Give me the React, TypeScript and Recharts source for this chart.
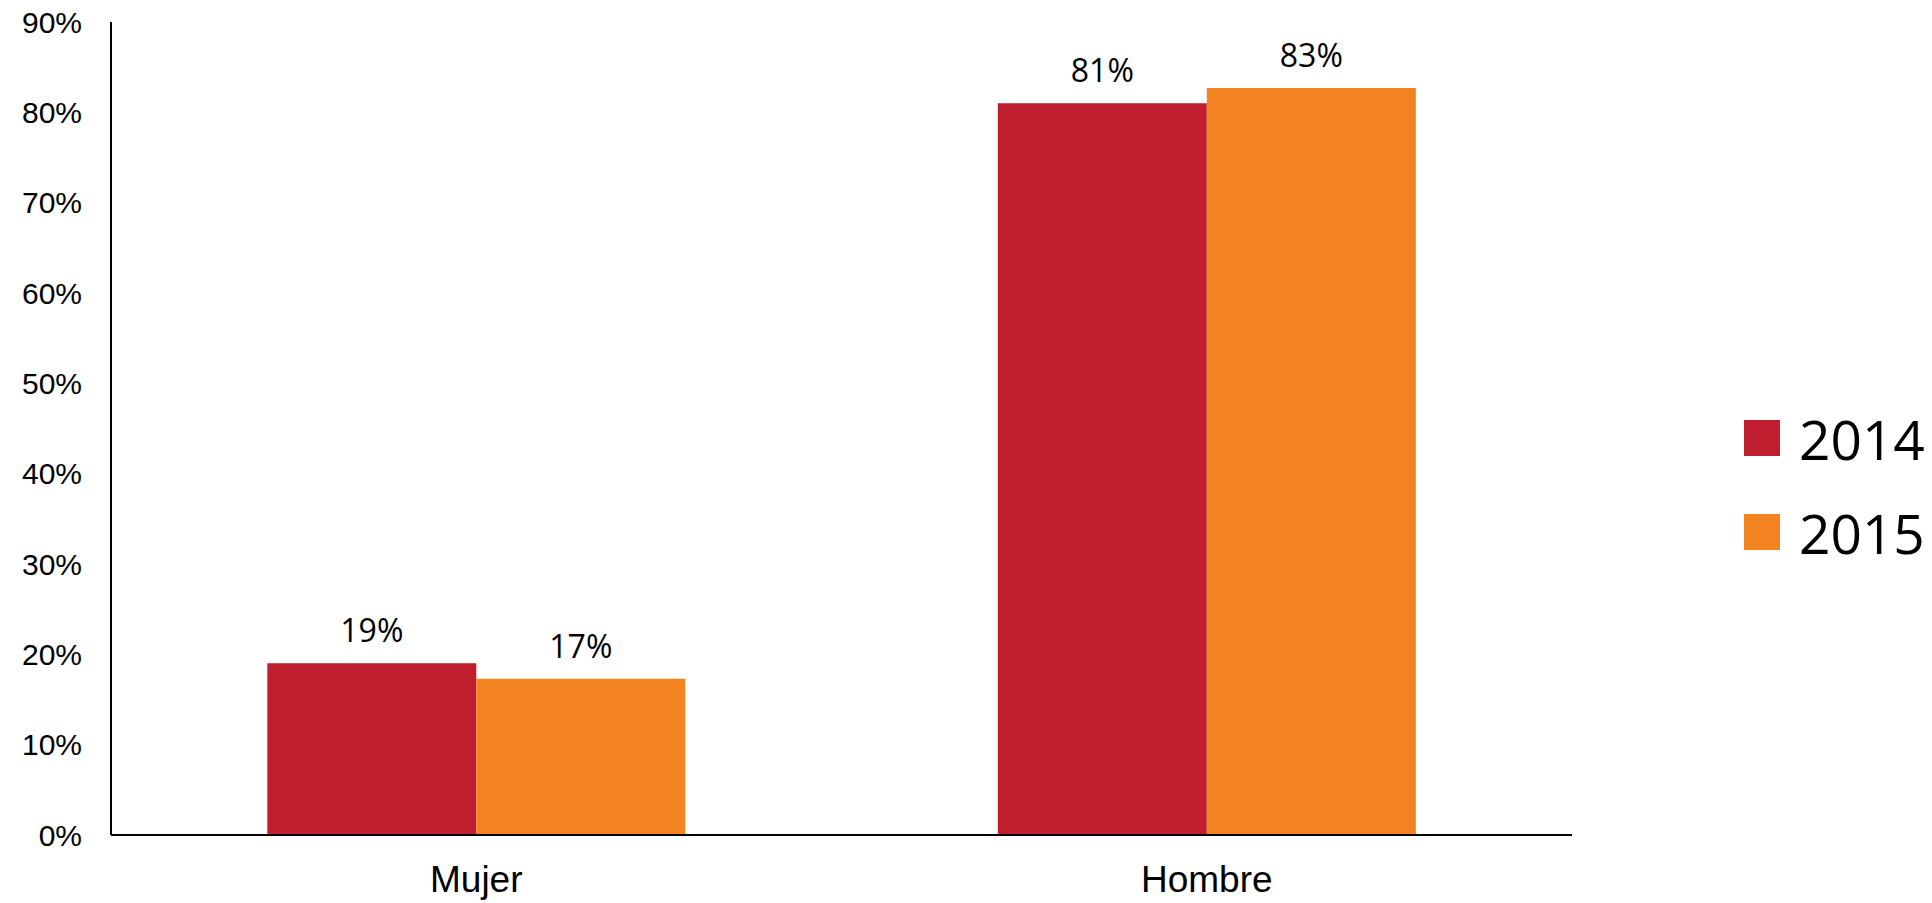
import { BarChart, Bar, XAxis, YAxis, Legend, LabelList } from "recharts";

const categories = ["Mujer", "Hombre"];
const values2014 = [19, 81];
const values2015 = [17.3, 82.7];
const yTicks = [0, 10, 20, 30, 40, 50, 60, 70, 80, 90];

const COLORS = { y2014: "#BE1E2D", y2015: "#F38220" };

const data = categories.map((name, i) => ({
  name,
  "2014": values2014[i],
  "2015": values2015[i],
}));

const legendItems = [
  { label: "2014", color: COLORS.y2014 },
  { label: "2015", color: COLORS.y2015 },
];

function renderLegend() {
  return (
    <div style={{ fontFamily: "'Open Sans', sans-serif" }}>
      {legendItems.map((item) => (
        <div
          key={item.label}
          style={{ display: "flex", alignItems: "center", height: 94 }}
        >
          <span
            style={{
              display: "inline-block",
              width: 36,
              height: 36,
              background: item.color,
              marginRight: 19,
            }}
          />
          <span style={{ fontSize: 55, color: "#000", lineHeight: 1 }}>
            {item.label}
          </span>
        </div>
      ))}
    </div>
  );
}

export default function App() {
  const pct = (v: number) => `${Math.round(v)}%`;
  // legend box (188 wide) is added to the right offset by recharts
  return (
    <div style={{ position: "absolute", left: 0, top: 0, background: "#fff" }}>
      <BarChart
        width={1932}
        height={903}
        data={data}
        margin={{ top: 22, right: 172, bottom: 0, left: 0 }}
        barCategoryGap="21.4%"
        barGap={0}
      >
        <XAxis
          dataKey="name"
          height={68}
          tickLine={false}
          tickSize={0}
          tickMargin={31}
          axisLine={{ stroke: "#000", strokeWidth: 2 }}
          tick={{ fill: "#000", fontSize: 37, fontFamily: "'Liberation Sans', Arial, sans-serif" }}
        />
        <YAxis
          width={111}
          domain={[0, 90]}
          ticks={yTicks}
          tickFormatter={(v) => `${v}%`}
          tickLine={false}
          tickSize={0}
          tickMargin={29}
          interval={0}
          axisLine={{ stroke: "#000", strokeWidth: 2 }}
          tick={{ fill: "#000", fontSize: 30, fontFamily: "'Liberation Sans', Arial, sans-serif" }}
        />
        <Legend
          layout="vertical"
          align="right"
          verticalAlign="top"
          content={renderLegend}
          wrapperStyle={{ left: 1744, top: 391, width: 188 }}
        />
        <Bar dataKey="2014" fill={COLORS.y2014} isAnimationActive={false}>
          <LabelList
            dataKey="2014"
            position="top"
            offset={21}
            formatter={pct}
            style={{ fill: "#000", fontSize: 32, fontFamily: "'Open Sans', sans-serif" }}
          />
        </Bar>
        <Bar dataKey="2015" fill={COLORS.y2015} isAnimationActive={false}>
          <LabelList
            dataKey="2015"
            position="top"
            offset={21}
            formatter={pct}
            style={{ fill: "#000", fontSize: 32, fontFamily: "'Open Sans', sans-serif" }}
          />
        </Bar>
      </BarChart>
    </div>
  );
}
